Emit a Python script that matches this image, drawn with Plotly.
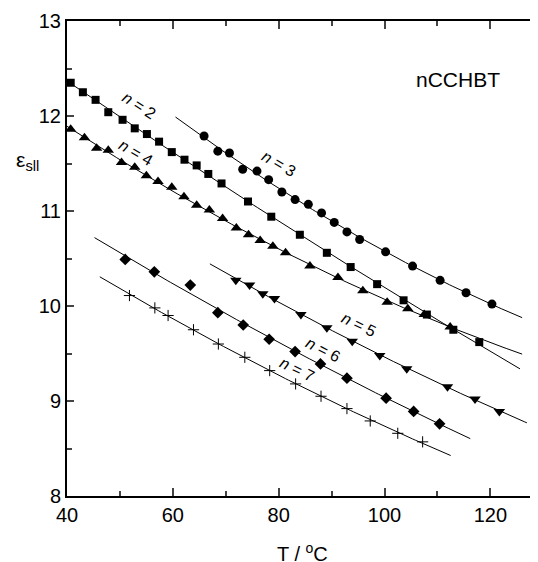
import numpy as np
import plotly.graph_objects as go

# ---- data ----
T2 = [40.7, 43.0, 45.4, 47.8, 50.5, 52.8, 55.1, 57.4, 59.8, 62.2, 64.5, 66.7, 69.2, 74.2, 78.6,
      84.0, 89.1, 93.6, 98.6, 103.6, 108.0, 113.0, 117.9]
E2 = [12.35, 12.25, 12.17, 12.04, 11.96, 11.87, 11.81, 11.73, 11.62, 11.54, 11.48, 11.39, 11.29, 11.10, 10.94,
      10.75, 10.56, 10.41, 10.23, 10.06, 9.91, 9.75, 9.62]

T3 = [65.9, 68.5, 70.7, 73.2, 75.9, 78.1, 80.6, 83.1, 85.6, 88.1, 90.5, 92.9, 95.3, 100.2, 105.3, 110.5, 115.4, 120.3]
E3 = [11.79, 11.63, 11.61, 11.44, 11.42, 11.33, 11.20, 11.12, 11.07, 10.98, 10.88, 10.78, 10.70, 10.57, 10.42,
      10.27, 10.14, 10.02]

T4 = [40.7, 43.3, 45.6, 47.8, 50.3, 52.8, 55.0, 57.2, 59.8, 62.1, 64.5, 66.9, 69.4, 72.0, 74.3, 76.5, 78.9, 81.3,
      85.9, 91.2, 95.9, 100.5, 104.4, 107.5, 112.4]
E4 = [11.86, 11.77, 11.66, 11.64, 11.51, 11.46, 11.37, 11.31, 11.25, 11.15, 11.06, 11.01, 10.92, 10.82, 10.75,
      10.69, 10.63, 10.56, 10.42, 10.30, 10.16, 10.04, 9.97, 9.91, 9.78]

T5 = [71.9, 74.5, 77.0, 79.2, 84.2, 89.1, 93.9, 99.1, 104.2, 111.9, 117.1, 121.7]
E5 = [10.27, 10.22, 10.13, 10.08, 9.91, 9.77, 9.63, 9.48, 9.34, 9.15, 9.02, 8.89]

T6 = [51.0, 56.5, 63.3, 68.5, 73.3, 78.2, 83.1, 87.9, 92.9, 100.3, 105.5, 110.4]
E6 = [10.49, 10.36, 10.22, 9.93, 9.80, 9.65, 9.52, 9.39, 9.24, 9.03, 8.89, 8.76]

T7 = [51.8, 56.6, 59.1, 63.9, 68.6, 73.6, 78.3, 83.2, 88.0, 92.9, 97.3, 102.5, 107.2]
E7 = [10.11, 9.98, 9.90, 9.75, 9.60, 9.46, 9.32, 9.18, 9.05, 8.92, 8.79, 8.66, 8.57]

# temperature span of each fitted curve
fit_ranges = {2: (40.0, 125.6), 3: (60.5, 126.0), 4: (40.0, 126.0),
              5: (67.0, 126.9), 6: (45.2, 116.2), 7: (46.2, 112.5)}

series_labels = ["n = 2", "n = 3", "n = 4", "n = 5", "n = 6", "n = 7"]
x_ticks = [40, 60, 80, 100, 120]
y_ticks = [8, 9, 10, 11, 12, 13]

series = {2: (T2, E2), 3: (T3, E3), 4: (T4, E4), 5: (T5, E5), 6: (T6, E6), 7: (T7, E7)}
symbols = {2: ("square", 8), 3: ("circle", 9), 4: ("triangle-up", 10),
           5: ("triangle-down", 10), 6: ("diamond", 9), 7: ("cross-thin", 8)}

FONT = "Liberation Sans, Arial, sans-serif"
fig = go.Figure()

for n, (T, E) in series.items():
    coef = np.polyfit(T, E, 2)
    t0, t1 = fit_ranges[n]
    tt = np.linspace(t0, t1, 120)
    fig.add_trace(go.Scatter(x=tt, y=np.polyval(coef, tt), mode="lines",
                             line=dict(color="black", width=1), showlegend=False, hoverinfo="skip"))
for n, (T, E) in series.items():
    sym, sz = symbols[n]
    if sym == "cross-thin":
        marker = dict(symbol=sym, size=sz, color="black", line=dict(color="black", width=1))
    else:
        marker = dict(symbol=sym, size=sz, color="black", line=dict(width=0))
    fig.add_trace(go.Scatter(x=T, y=E, mode="markers", marker=marker, showlegend=False,
                             name=series_labels[n - 2]))

# right-side mirrored ticks without a line (the frame is cut off at the right edge)
fig.add_trace(go.Scatter(x=[60], y=[10], yaxis="y2", mode="markers",
                         marker=dict(size=1, opacity=0), showlegend=False, hoverinfo="skip"))

# labels along the curves
label_pos = {2: (53.6, 12.11, 33), 4: (53.0, 11.62, 30), 3: (80.0, 11.50, 30),
             5: (95.1, 9.81, 26), 6: (88.3, 9.54, 27), 7: (83.5, 9.33, 26)}
for n, (lx, ly, ang) in label_pos.items():
    txt = series_labels[n - 2].replace("n", "<i>n</i>", 1)
    fig.add_annotation(x=lx, y=ly, text=txt, showarrow=False, textangle=ang,
                       font=dict(family=FONT, size=16, color="black"))

fig.add_annotation(x=113.9, y=12.38, text="nCCHBT", showarrow=False,
                   font=dict(family=FONT, size=21, color="black"))
fig.add_annotation(xref="paper", yref="paper", x=0.501, y=-0.118, text="T / <sup>o</sup>C",
                   showarrow=False, xanchor="center", yanchor="middle",
                   font=dict(family=FONT, size=20, color="black"))
fig.add_annotation(xref="paper", yref="paper", x=-0.083, y=0.705, text="ε<sub>sll</sub>",
                   showarrow=False, xanchor="center", yanchor="middle",
                   font=dict(family=FONT, size=21, color="black"))

xr = [40, 129.0]
yr = [8, 13]
fig.update_layout(
    width=530, height=554,
    margin=dict(l=59, r=0, t=13, b=66),
    plot_bgcolor="white", paper_bgcolor="white",
    font=dict(family=FONT, size=20, color="black"),
    xaxis=dict(range=xr, tickvals=x_ticks, ticks="inside", ticklen=8, tickwidth=1.5,
               showline=True, linewidth=2, linecolor="black", mirror="ticks",
               showgrid=False, zeroline=False,
               minor=dict(dtick=10, tick0=40, ticks="inside", ticklen=5, tickwidth=1.5, showgrid=False),
               tickfont=dict(size=20)),
    yaxis=dict(range=yr, tickvals=y_ticks, ticks="inside", ticklen=7, tickwidth=1.5,
               showline=True, linewidth=2, linecolor="black", mirror=False,
               showgrid=False, zeroline=False,
               minor=dict(dtick=0.5, tick0=8, ticks="inside", ticklen=5, tickwidth=1.5, showgrid=False),
               tickfont=dict(size=20)),
    yaxis2=dict(range=yr, overlaying="y", side="right", anchor="x", tickvals=y_ticks,
                ticks="inside", ticklen=7, tickwidth=1.5, showticklabels=False,
                showline=False, showgrid=False, zeroline=False,
                minor=dict(dtick=0.5, tick0=8, ticks="inside", ticklen=5, tickwidth=1.5, showgrid=False)),
)

fig.write_html("out.html")
